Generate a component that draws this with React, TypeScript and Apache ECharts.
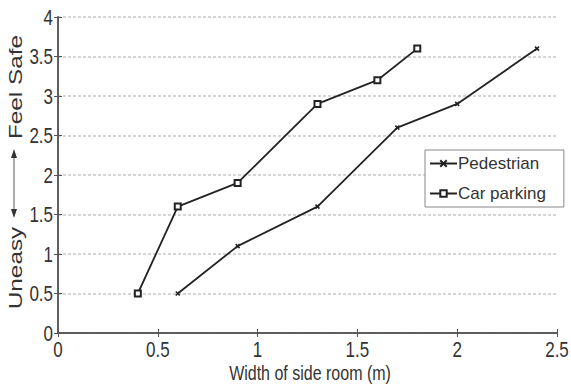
import React, { useEffect, useRef } from "react";
import * as echarts from "echarts";

const pedX = [0.6, 0.9, 1.3, 1.7, 2.0, 2.4];
const pedY = [0.5, 1.1, 1.6, 2.6, 2.9, 3.6];
const carX = [0.4, 0.6, 0.9, 1.3, 1.6, 1.8];
const carY = [0.5, 1.6, 1.9, 2.9, 3.2, 3.6];
const seriesNames = ["Pedestrian", "Car parking"];
const xTickLabels = ["0", "0.5", "1", "1.5", "2", "2.5"];
const yTickLabels = ["0", "0.5", "1", "1.5", "2", "2.5", "3", "3.5", "4"];
const xTitle = "Width of side room (m)";
const yTitleTop = "Feel Safe";
const yTitleBottom = "Uneasy";

const FONT = "'Liberation Sans', Arial, sans-serif";
const AXIS = "#555";
const TEXT = "#333";
const STRETCH = 1.3;

export default function App() {
  const ref = useRef<HTMLDivElement>(null);
  useEffect(() => {
    if (!ref.current) return;
    const chart = echarts.init(ref.current, null, { renderer: "svg" });
    const pair = (xs: number[], ys: number[]) => xs.map((x, i) => [x, ys[i]]);
    const axisCommon = {
      min: 0,
      interval: 0.5,
      axisLine: { show: true, lineStyle: { color: AXIS, width: 1.5 } },
      axisTick: { show: true, inside: true, length: 4, lineStyle: { color: AXIS } },
      axisLabel: { show: false },
    };
    chart.setOption({
      animation: false,
      backgroundColor: "#fff",
      grid: { left: 58, right: 14, top: 17, bottom: 55 },
      legend: {
        orient: "vertical",
        left: 425,
        top: 150,
        width: 128,
        padding: [5, 18, 5, 4],
        itemWidth: 27,
        itemHeight: 8,
        itemGap: 13,
        backgroundColor: "#fff",
        borderColor: "#888",
        borderWidth: 1,
        textStyle: { fontFamily: FONT, fontSize: 17, color: TEXT, padding: [0, 0, 0, -4] },
        data: seriesNames,
      },
      xAxis: [
        { ...axisCommon, type: "value", max: 2.5, position: "bottom", splitLine: { show: false } },
        { ...axisCommon, type: "value", max: 2.5, position: "top", splitLine: { show: false } },
      ],
      yAxis: [
        {
          ...axisCommon,
          type: "value",
          max: 4,
          position: "left",
          splitLine: { show: true, lineStyle: { color: "#c8c8c8", type: [3, 2], width: 1.5 } },
        },
        { ...axisCommon, type: "value", max: 4, position: "right", splitLine: { show: false } },
      ],
      series: [
        {
          name: seriesNames[0],
          type: "line",
          data: pair(pedX, pedY),
          symbol: "path://M0,0L10,10M10,0L0,10",
          symbolSize: 4,
          lineStyle: { color: "#222", width: 1.8 },
          itemStyle: { color: "#222", borderColor: "#222", borderWidth: 1.5 },
        },
        {
          name: seriesNames[1],
          type: "line",
          data: pair(carX, carY),
          symbol: "emptyRect",
          symbolSize: 6,
          lineStyle: { color: "#222", width: 1.8 },
          itemStyle: { color: "#222", borderColor: "#222", borderWidth: 1.5 },
        },
      ],
    });

    const tickText = (text: string, x: number, y: number, align: string) => ({
      type: "text",
      x,
      y,
      scaleY: STRETCH,
      style: {
        text,
        fontFamily: FONT,
        fontSize: 17,
        fill: TEXT,
        align,
        verticalAlign: "middle",
      },
    });
    const ticks: any[] = [];
    xTickLabels.forEach((lab) => {
      const [px, py] = chart.convertToPixel({ xAxisIndex: 0, yAxisIndex: 0 }, [Number(lab), 0]);
      ticks.push(tickText(lab, px, py + 16, "center"));
    });
    yTickLabels.forEach((lab) => {
      const [px, py] = chart.convertToPixel({ xAxisIndex: 0, yAxisIndex: 0 }, [0, Number(lab)]);
      ticks.push(tickText(lab, px - 5, py, "right"));
    });

    chart.setOption({
      graphic: [
        {
          type: "text",
          x: 310,
          y: 373,
          scaleY: STRETCH,
          style: {
            text: xTitle,
            fontFamily: FONT,
            fontSize: 16,
            fill: TEXT,
            align: "center",
            verticalAlign: "middle",
          },
        },
        {
          type: "text",
          x: 16,
          y: 87,
          rotation: Math.PI / 2,
          scaleX: 1.35,
          style: {
            text: yTitleTop,
            fontFamily: FONT,
            fontSize: 18,
            fill: TEXT,
            align: "center",
            verticalAlign: "middle",
          },
        },
        {
          type: "text",
          x: 16,
          y: 268,
          rotation: Math.PI / 2,
          scaleX: 1.35,
          style: {
            text: yTitleBottom,
            fontFamily: FONT,
            fontSize: 18,
            fill: TEXT,
            align: "center",
            verticalAlign: "middle",
          },
        },
        {
          type: "line",
          shape: { x1: 14, y1: 156, x2: 14, y2: 211 },
          style: { stroke: "#777", lineWidth: 1.2 },
        },
        {
          type: "polygon",
          shape: { points: [[14, 149], [11, 158], [17, 158]] },
          style: { fill: "#333" },
        },
        {
          type: "polygon",
          shape: { points: [[14, 218], [11, 209], [17, 209]] },
          style: { fill: "#333" },
        },
        ...ticks,
      ],
    });
    return () => chart.dispose();
  }, []);
  return (
    <div
      ref={ref}
      style={{ position: "absolute", left: 0, top: 0, width: 571, height: 388 }}
    />
  );
}
